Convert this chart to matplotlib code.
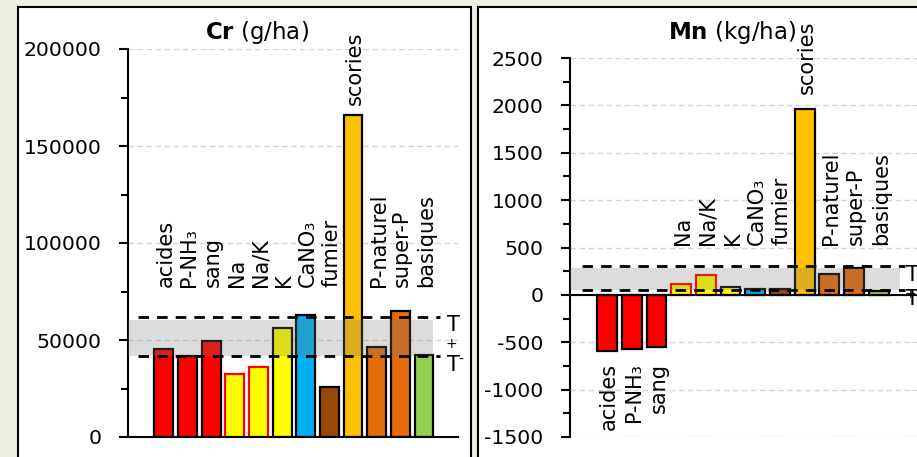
import matplotlib
matplotlib.use("Agg")
import matplotlib.pyplot as plt
from matplotlib.patches import Rectangle
from matplotlib.ticker import MultipleLocator, FormatStrFormatter

plt.rcParams['font.family'] = ['DejaVu Sans']
plt.rcParams['axes.unicode_minus'] = False
plt.rcParams['mathtext.fontset'] = 'dejavusans'

# Fertiliser categories and their contributions
categories = ['acides', 'P-NH₃', 'sang', 'Na', 'Na/K', 'K', 'CaNO₃',
              'fumier', 'scories', 'P-naturel', 'super-P', 'basiques']
cr_values = [45500, 42000, 49500, 32300, 36200, 56000, 62900,
             25900, 166000, 46500, 65100, 42200]          # g/ha
mn_values = [-589, -568, -547, 113, 211, 87, 63,
             63, 1965, 218, 281, 45]                        # kg/ha

fill_colors = ['#FF0000', '#FF0000', '#FF0000', '#FFFF00', '#FFFF00', '#FFFF00',
               '#00B0F0', '#984807', '#FFC000', '#E46C0A', '#E46C0A', '#92D050']
edge_colors = ['black', 'black', 'black', '#FF0000', '#FF0000', 'black',
               'black', 'black', 'black', 'black', 'black', 'black']

# Thresholds (T-, T+) and the shaded reference range
cr_thresholds = (41500, 62000)
cr_band = (41500, 60500)
mn_thresholds = (50, 300)
mn_band = (50, 285)

W, H = 917, 457
fig = plt.figure(figsize=(W / 100, H / 100), dpi=100, facecolor='#ECEFE1')

# white framed panels
fig.add_artist(Rectangle((18 / W, -0.1), (471 - 18) / W, 1.1 - 7 / H,
                         transform=fig.transFigure, facecolor='white',
                         edgecolor='black', lw=1.5, zorder=0.5))
fig.add_artist(Rectangle((478 / W, -0.1), 0.6, 1.1 - 7 / H,
                         transform=fig.transFigure, facecolor='white',
                         edgecolor='black', lw=1.5, zorder=0.5))

ax1 = fig.add_axes([128 / W, 20 / H, 330 / W, 388 / H])
ax2 = fig.add_axes([570 / W, 20 / H, 347 / W, 379 / H])


def style_axes(ax, ylim, major, minor, xlim):
    ax.set_zorder(1)
    ax.set_facecolor('none')
    ax.set_xlim(*xlim)
    ax.set_ylim(*ylim)
    ax.set_xticks([])
    ax.yaxis.set_major_locator(MultipleLocator(major))
    ax.yaxis.set_minor_locator(MultipleLocator(minor))
    ax.yaxis.set_major_formatter(FormatStrFormatter('%d'))
    ax.tick_params(axis='y', which='major', length=6.5, width=1.5,
                   labelsize=14.7, pad=12.5, direction='out')
    ax.tick_params(axis='y', which='minor', length=5.2, width=1.5,
                   direction='out')
    for s in ('top', 'right'):
        ax.spines[s].set_visible(False)
    for s in ('left', 'bottom'):
        ax.spines[s].set_linewidth(1.5)
    ax.spines['bottom'].set_position(('data', 0))
    ax.yaxis.grid(True, which='major', color='#D4D4D4', lw=1.0,
                  ls=(0, (4, 2.5)))
    ax.set_axisbelow(True)


def draw_bars(ax, values):
    x = range(len(values))
    ax.bar(x, values, width=0.8, color=fill_colors, edgecolor=edge_colors,
           linewidth=1.6, zorder=2)


def draw_thresholds(ax, thr, band, band_end, line_x):
    lo, hi = thr
    x0 = ax.get_xlim()[0]
    ax.fill_between([x0, band_end], band[0], band[1],
                    color=(0.482, 0.482, 0.482), alpha=0.26, lw=0, zorder=3)
    for y in (lo, hi):
        ax.plot(line_x, [y, y], color='black', lw=2.0, dashes=(3.8, 2.9),
                zorder=4, dash_capstyle='butt')
    kw = dict(xycoords=('axes fraction', 'data'), textcoords='offset points',
              annotation_clip=False)
    ax.annotate('T', xy=(0.986, hi), xytext=(0, 1.0), ha='center', va='top',
                fontsize=15, **kw)
    ax.annotate('+', xy=(0.986, hi), xytext=(-1.5, -20), ha='center',
                va='center', fontsize=10, **kw)
    ax.annotate('T', xy=(0.986, lo), xytext=(0, 1.0), ha='center', va='top',
                fontsize=15, **kw)
    ax.annotate('-', xy=(0.986, lo), xytext=(5, -2.5), ha='center',
                va='center', fontsize=10, **kw)


def draw_labels(ax, values, pos_y, neg_y, top_y):
    for i, (name, v) in enumerate(zip(categories, values)):
        if v == max(values):
            ax.text(i + 0.08, top_y, name, rotation=90, ha='center',
                    va='bottom', fontsize=15)
        elif v < 0:
            ax.text(i + 0.08, neg_y, name, rotation=90, ha='center',
                    va='top', fontsize=15)
        else:
            ax.text(i + 0.08, pos_y, name, rotation=90, ha='center',
                    va='bottom', fontsize=15)


# Cr panel
style_axes(ax1, (0, 200000), 50000, 25000, (-1.52, 12.44))
draw_bars(ax1, cr_values)
draw_thresholds(ax1, cr_thresholds, cr_band, 11.39, [-1.1, 11.67])
draw_labels(ax1, cr_values, 77300, 0, 171000)
fig.text(257 / W, 1 - 33 / H, r'$\mathbf{Cr}$ (g/ha)', ha='center',
         va='center', fontsize=16.5)

# Mn panel
style_axes(ax2, (-1500, 2500), 500, 250, (-1.5, 12.55))
draw_bars(ax2, mn_values)
draw_thresholds(ax2, mn_thresholds, mn_band, 11.86, [-1.01, 12.06])
draw_labels(ax2, mn_values, 530, -720, 2120)
fig.text(732 / W, 1 - 33 / H, r'$\mathbf{Mn}$ (kg/ha)', ha='center',
         va='center', fontsize=16.5)

fig.savefig('out.png', dpi=100, facecolor=fig.get_facecolor())
